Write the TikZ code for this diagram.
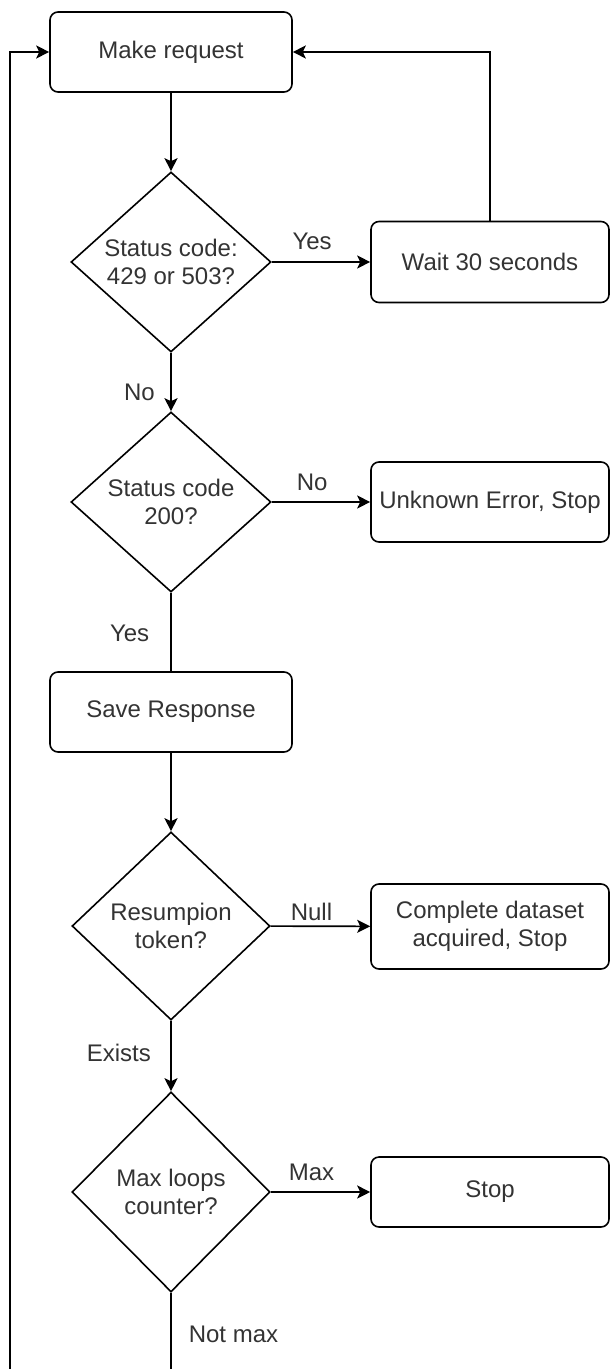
\documentclass[tikz,border=0pt]{standalone}
\usepackage{fontspec}
\setmainfont{Liberation Sans}
\usetikzlibrary{shapes.geometric, arrows.meta}

\tikzstyle{box}=[draw, rounded corners=4pt, line width=0.8pt, text=black!80, font=\fontsize{12}{14}\selectfont, align=center, inner sep=0pt]
\tikzstyle{decision}=[draw, diamond, line width=0.8pt, text=black!80, font=\fontsize{12}{14}\selectfont, align=center, inner sep=0pt]
\tikzstyle{flow}=[-{Stealth[length=6.5pt, width=6.5pt, inset=1.5pt]}, line width=0.8pt]
\tikzstyle{plain}=[line width=0.8pt]
\tikzstyle{answer}=[text=black!80, font=\fontsize{12}{14}\selectfont, inner sep=0pt]

\begin{document}
\begin{tikzpicture}[x=0.5pt, y=-0.5pt]
    \useasboundingbox (0, 0) rectangle (610, 1369);
    \node[box, minimum width=121pt, minimum height=40pt] (request) at (171, 52) {Make request};
    \node[decision, minimum width=100pt, minimum height=90pt] (status1) at (171, 262) {Status code:\\429 or 503?};
    \node[box, minimum width=119pt, minimum height=40.5pt] (wait) at (490, 262) {Wait 30 seconds};
    \node[decision, minimum width=100pt, minimum height=90pt] (status2) at (171, 502) {Status code\\200?};
    \node[box, minimum width=119pt, minimum height=40pt] (unknown) at (490, 502) {Unknown Error, Stop};
    \node[box, minimum width=121pt, minimum height=40pt] (save) at (171, 712) {Save Response};
    \node[decision, minimum width=99pt, minimum height=94pt] (token) at (171, 926) {Resumpion\\token?};
    \node[box, minimum width=119pt, minimum height=42.5pt] (complete) at (490, 926.5) {Complete dataset\\acquired, Stop};
    \node[decision, minimum width=99pt, minimum height=100pt] (counter) at (171, 1192) {Max loops\\counter?};
    \node[box, minimum width=119pt, minimum height=35pt] (stop) at (490, 1192) {Stop};
    \coordinate (loopend) at (171, 1369);
    \coordinate (loopstart) at (10, 1369);
    \coordinate (loopcorner) at (10, 52);
    \draw[flow] (request) to (status1);
    \draw[flow] (status1) to node[answer, pos=0.41, above=5.5pt] {Yes} (wait);
    \draw[flow] (wait) |- (request);
    \draw[flow] (status1) to node[answer, pos=0.68, left=7.7pt] {No} (status2);
    \draw[flow] (status2) to node[answer, pos=0.41, above=5.2pt] {No} (unknown);
    \draw[plain] (status2) to node[answer, pos=0.52, left=10.5pt] {Yes} (save);
    \draw[flow] (save) to (token);
    \draw[flow] (token) to node[answer, pos=0.41, above=2.2pt] {Null} (complete);
    \draw[flow] (token) to node[answer, pos=0.46, left=9.7pt] {Exists} (counter);
    \draw[flow] (counter) to node[answer, pos=0.41, above=5.2pt] {Max} (stop);
    \draw[plain] (counter) to node[answer, pos=0.54, right=8.5pt] {Not max} (loopend);
    \draw[flow] (loopstart) -- (loopcorner) -- (request);
\end{tikzpicture}
\end{document}
